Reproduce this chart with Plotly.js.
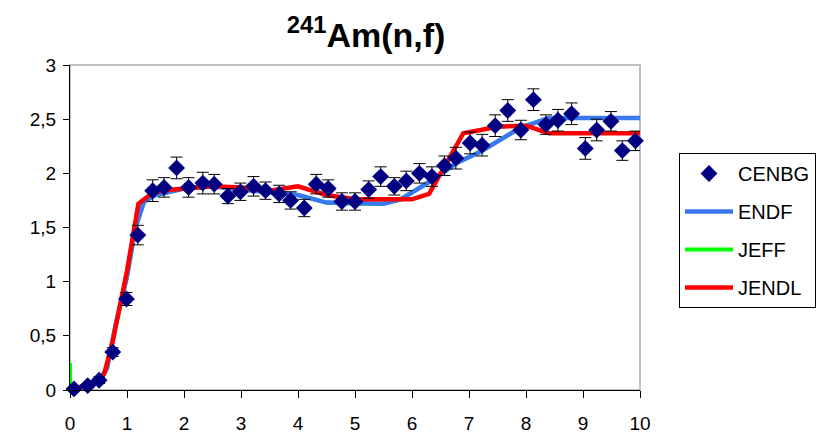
<!DOCTYPE html>
<html>
<head>
<meta charset="utf-8">
<script src="https://cdn.plot.ly/plotly-3.0.1.min.js"></script>
<style>html,body{margin:0;padding:0;background:#fff;}#chart{width:827px;height:436px;}</style>
</head>
<body>
<div id="chart"></div>
<script>
// Measured data (CENBG)
var cenbgX = [0.07,0.31,0.51,0.75,0.99,1.19,1.45,1.65,1.87,2.08,2.33,2.53,2.77,2.99,3.22,3.43,3.67,3.87,4.11,4.32,4.53,4.77,5.0,5.24,5.45,5.69,5.9,6.13,6.35,6.57,6.77,7.02,7.23,7.46,7.68,7.91,8.13,8.35,8.56,8.8,9.04,9.24,9.49,9.69,9.92];
var cenbgY = [0.01,0.04,0.09,0.35,0.84,1.43,1.84,1.87,2.05,1.87,1.91,1.9,1.79,1.83,1.88,1.84,1.81,1.75,1.68,1.9,1.86,1.74,1.74,1.85,1.97,1.88,1.93,2.0,1.97,2.07,2.14,2.28,2.26,2.44,2.58,2.4,2.68,2.45,2.49,2.55,2.23,2.4,2.48,2.21,2.3];
var cenbgErr = [0.01,0.02,0.03,0.04,0.06,0.09,0.1,0.09,0.1,0.09,0.1,0.09,0.07,0.08,0.09,0.08,0.08,0.08,0.08,0.09,0.08,0.08,0.08,0.08,0.09,0.08,0.09,0.09,0.09,0.09,0.1,0.1,0.1,0.1,0.1,0.09,0.1,0.09,0.1,0.1,0.1,0.1,0.09,0.09,0.09];
// point just beyond the axis end (only its error bar shows)
var edgeX = [10.11];
var edgeY = [2.23];
var edgeErr = [0.09];

// Evaluations
var endfX = [0,0.5,0.65,0.8,1.0,1.15,1.3,1.5,2,2.5,3,3.5,4,4.5,5,5.5,5.8,6.3,6.8,7.2,7.9,8.4,10];
var endfY = [0,0.08,0.2,0.6,1.05,1.5,1.74,1.8,1.86,1.88,1.85,1.83,1.8,1.73,1.72,1.72,1.76,1.92,2.1,2.2,2.42,2.51,2.51];
var jeffX = [0,0,0.5,0.65,0.8,1.0,1.15,1.3,1.5,2,2.5,3,3.5,4,4.5,5,5.5,5.8,6.3,6.8,7.2,7.9,8.4,10];
var jeffY = [0.25,0,0.08,0.2,0.6,1.05,1.5,1.74,1.8,1.86,1.88,1.85,1.83,1.8,1.73,1.72,1.72,1.76,1.92,2.1,2.2,2.42,2.51,2.51];
var jendlX = [0,0.5,0.6,0.75,1.0,1.2,1.4,1.6,2,2.5,3,3.5,4,4.5,5,5.5,6,6.3,6.9,7.5,8,8.4,10];
var jendlY = [0,0.08,0.15,0.45,1.1,1.72,1.8,1.84,1.86,1.88,1.87,1.84,1.88,1.8,1.76,1.76,1.76,1.81,2.37,2.43,2.44,2.37,2.37];

var yTickVals = [0,0.5,1,1.5,2,2.5,3];
var yTickText = ['0','0,5','1','1,5','2','2,5','3'];
var xTickVals = [0,1,2,3,4,5,6,7,8,9,10];
var xTickText = ['0','1','2','3','4','5','6','7','8','9','10'];

var FONT = 'Arial, "Liberation Sans", sans-serif';

var traces = [
  {x: jeffX, y: jeffY, name: 'JEFF', mode: 'lines', line: {color: '#00ff00', width: 4}, legendrank: 3, legendgroup: 'c', cliponaxis: false},
  {x: endfX, y: endfY, name: 'ENDF', mode: 'lines', line: {color: '#3a78f2', width: 4.5}, legendrank: 2, legendgroup: 'b'},
  {x: jendlX, y: jendlY, name: 'JENDL', mode: 'lines', line: {color: '#ff0000', width: 4.5}, legendrank: 4, legendgroup: 'd'},
  {x: cenbgX, y: cenbgY, name: 'CENBG', mode: 'markers', cliponaxis: false, legendrank: 1, legendgroup: 'a',
   marker: {symbol: 'diamond', size: 13, color: '#000080'},
   error_y: {type: 'data', array: cenbgErr, visible: true, color: '#000000', thickness: 1, width: 6}},
  {x: edgeX, y: edgeY, name: 'CENBG edge', mode: 'markers', cliponaxis: false, showlegend: false, hoverinfo: 'skip',
   marker: {symbol: 'diamond', size: 13, color: '#000080', opacity: 0},
   error_y: {type: 'data', array: edgeErr, visible: true, color: '#000000', thickness: 1, width: 6}}
];

var layout = {
  width: 827, height: 436,
  margin: {l: 70, r: 186, t: 65, b: 46},
  paper_bgcolor: '#ffffff', plot_bgcolor: '#ffffff',
  font: {family: FONT, color: '#000000'},
  title: {text: '<sup>241</sup>Am(n,f)', font: {family: FONT, size: 34, color: '#000', weight: 'bold'},
          x: 366/827, xref: 'container', xanchor: 'center', y: 1 - 35/436, yref: 'container', yanchor: 'middle'},
  xaxis: {range: [0, 10], tickvals: xTickVals, ticktext: xTickText, showgrid: false, zeroline: false,
          showline: true, linecolor: '#000', linewidth: 1, ticks: 'outside', ticklen: 7, tickcolor: '#000',
          tickfont: {size: 19, family: FONT}, ticklabelstandoff: 9, fixedrange: true},
  yaxis: {range: [0, 3], tickvals: yTickVals, ticktext: yTickText, showgrid: false, zeroline: false,
          showline: true, linecolor: '#000', linewidth: 1, ticks: 'outside', ticklen: 6, tickcolor: '#000',
          tickfont: {size: 19, family: FONT}, ticklabelstandoff: 3, fixedrange: true},
  shapes: [{type: 'rect', xref: 'paper', yref: 'paper', x0: 0, x1: 1, y0: 0, y1: 1, layer: 'below',
            line: {color: '#c0c0c0', width: 2}}],
  legend: {x: (679-70)/571, y: (390-153)/325, xanchor: 'left', yanchor: 'top', bgcolor: '#fff',
           bordercolor: '#000', borderwidth: 1, font: {size: 20, family: FONT}, tracegroupgap: 9,
           itemwidth: 48},
  showlegend: true
};

Plotly.newPlot('chart', traces, layout, {displayModeBar: false, staticPlot: true});
</script>
</body>
</html>
